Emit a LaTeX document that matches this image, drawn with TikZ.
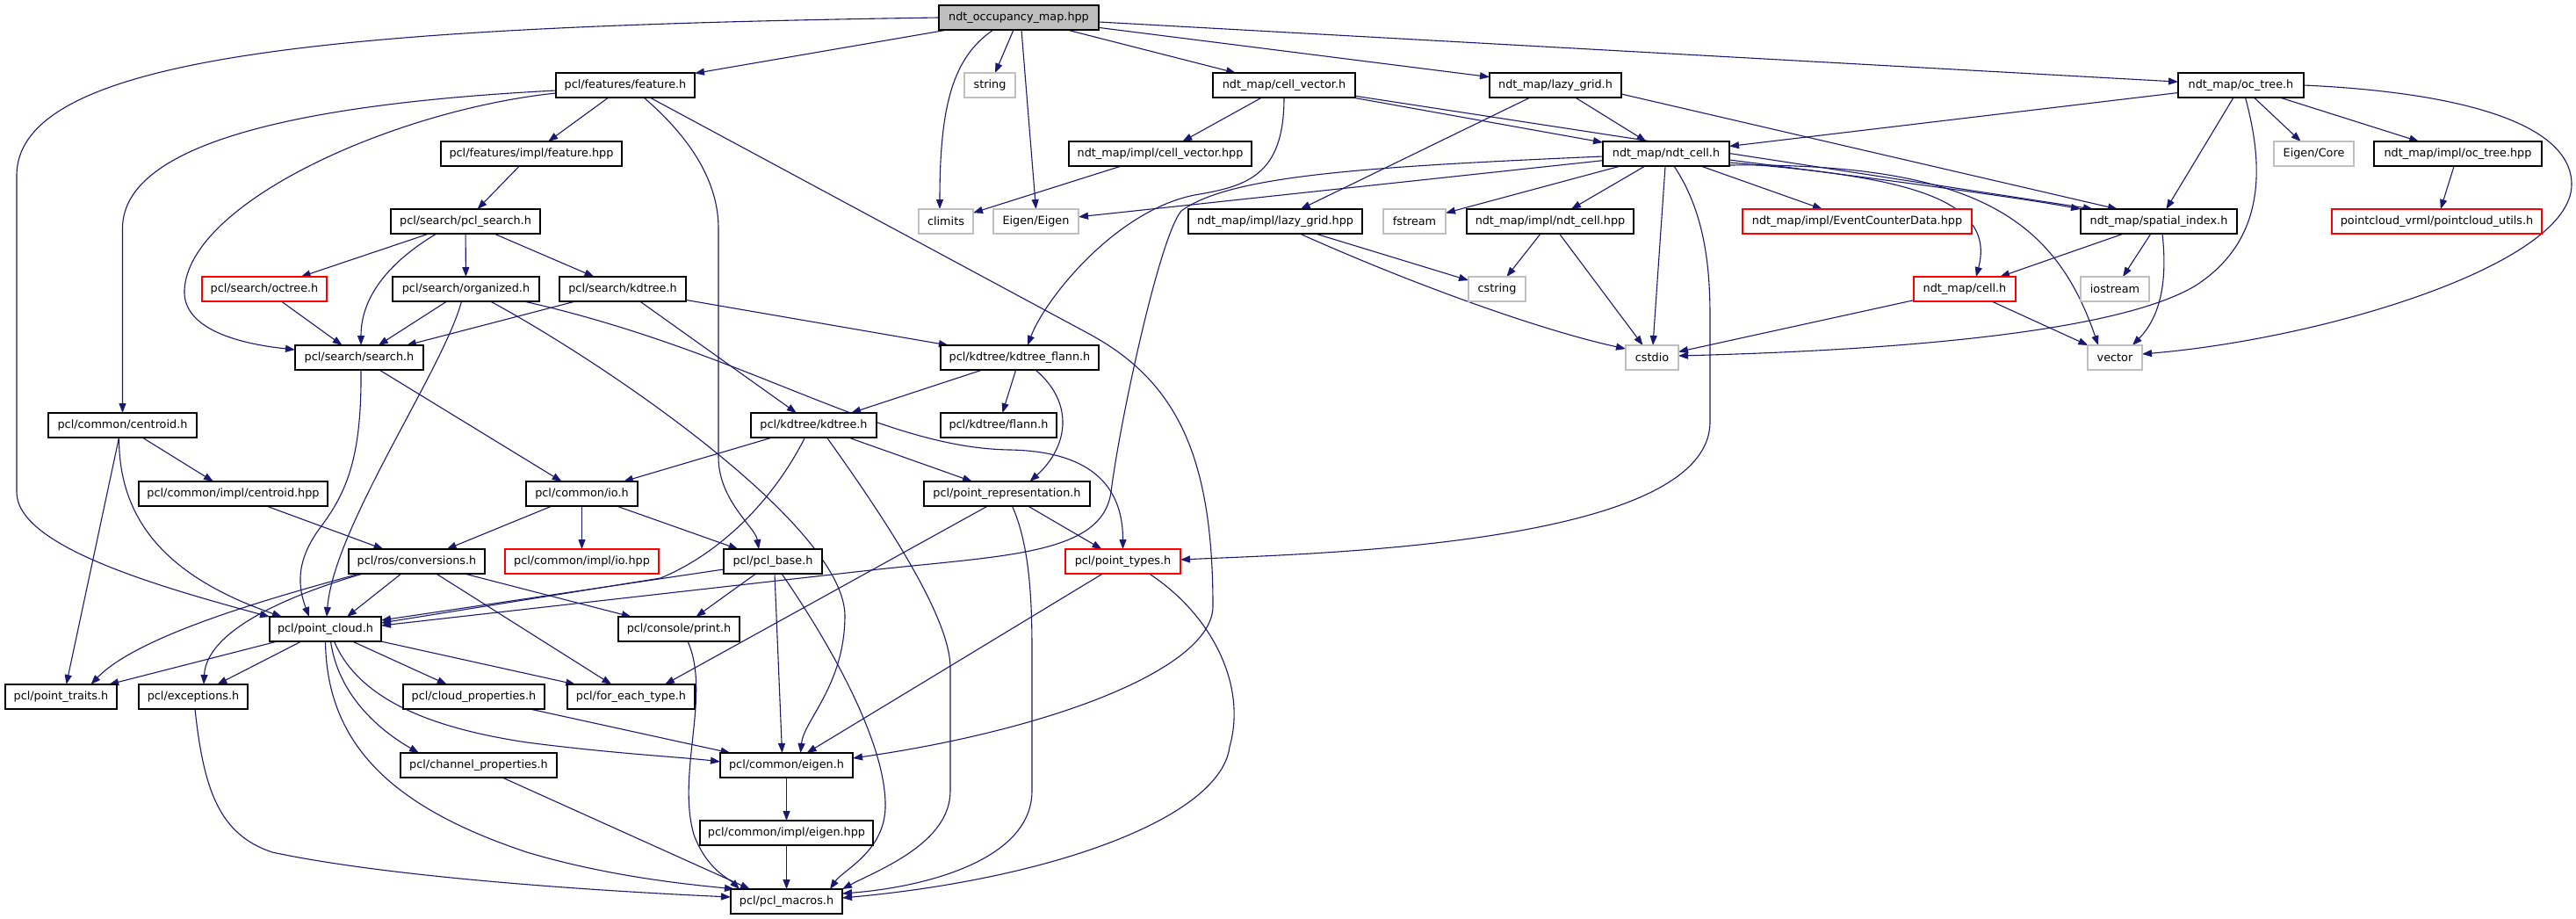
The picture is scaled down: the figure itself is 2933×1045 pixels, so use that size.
\documentclass[tikz,border=0pt]{standalone}
\usepackage{fontspec}
\newfontfamily\dgfam{DejaVu Sans}
\usetikzlibrary{arrows.meta,calc,backgrounds}
\definecolor{edgecol}{HTML}{191970}
\definecolor{sysgray}{HTML}{BFBFBF}
\definecolor{rootgray}{HTML}{BFBFBF}
\definecolor{truncred}{HTML}{FF0000}
\tikzset{
  hdr/.style={draw=black, line width=1.2bp, fill=white, minimum height=28bp,
    inner sep=0pt, outer sep=0pt, text=black,
    font=\dgfam\fontsize{12.8bp}{15bp}\selectfont},
  sys/.style={hdr, draw=sysgray},
  trunc/.style={hdr, draw=truncred},
  rootbox/.style={hdr, fill=rootgray},
  dep/.style={draw=edgecol, line width=1.1bp, -{Triangle[length=11bp,width=8bp]}},
}
\begin{document}
\begin{tikzpicture}[x=1bp,y=-1bp]
\useasboundingbox (0,0) rectangle (2933,1045);
% nodes
\node[rootbox, minimum width=182bp] (root) at (1160,20) {ndt\_occupancy\_map.hpp};
\node[hdr, minimum width=158bp] (feat) at (712,97) {pcl/features/feature.h};
\node[sys, minimum width=58bp] (string) at (1127,97) {string};
\node[hdr, minimum width=162bp] (cellvec) at (1462,97) {ndt\_map/cell\_vector.h};
\node[hdr, minimum width=150bp] (lazy) at (1771,97) {ndt\_map/lazy\_grid.h};
\node[hdr, minimum width=143bp] (octndt) at (2551.5,97) {ndt\_map/oc\_tree.h};
\node[hdr, minimum width=206bp] (featimpl) at (605,175) {pcl/features/impl/feature.hpp};
\node[hdr, minimum width=208bp] (cvimpl) at (1321,175) {ndt\_map/impl/cell\_vector.hpp};
\node[hdr, minimum width=144bp] (ndtcell) at (1897,175) {ndt\_map/ndt\_cell.h};
\node[sys, minimum width=91bp] (eigencore) at (2634.5,175) {Eigen/Core};
\node[hdr, minimum width=191bp] (octimpl) at (2798.5,175) {ndt\_map/impl/oc\_tree.hpp};
\node[hdr, minimum width=170bp] (pclsearch) at (530,252) {pcl/search/pcl\_search.h};
\node[sys, minimum width=62bp] (climits) at (1077,252) {climits};
\node[sys, minimum width=97bp] (eigeneigen) at (1179.5,252) {Eigen/Eigen};
\node[hdr, minimum width=198bp] (lgimpl) at (1452,252) {ndt\_map/impl/lazy\_grid.hpp};
\node[sys, minimum width=71bp] (fstream) at (1610.5,252) {fstream};
\node[hdr, minimum width=190bp] (ncimpl) at (1765,252) {ndt\_map/impl/ndt\_cell.hpp};
\node[trunc, minimum width=261bp] (ecd) at (2114.5,252) {ndt\_map/impl/EventCounterData.hpp};
\node[hdr, minimum width=178bp] (spidx) at (2458,252) {ndt\_map/spatial\_index.h};
\node[trunc, minimum width=239bp] (pcutils) at (2774.5,252) {pointcloud\_vrml/pointcloud\_utils.h};
\node[trunc, minimum width=142bp] (octreeh) at (301,329) {pcl/search/octree.h};
\node[hdr, minimum width=167bp] (organized) at (530.5,329) {pcl/search/organized.h};
\node[hdr, minimum width=144bp] (skdtree) at (709,329) {pcl/search/kdtree.h};
\node[sys, minimum width=65bp] (cstring) at (1704.5,329) {cstring};
\node[trunc, minimum width=116bp] (cellh) at (2237,329) {ndt\_map/cell.h};
\node[sys, minimum width=78bp] (iostream) at (2408,329) {iostream};
\node[hdr, minimum width=146bp] (search) at (409,407) {pcl/search/search.h};
\node[hdr, minimum width=180bp] (kdflann) at (1161,407) {pcl/kdtree/kdtree\_flann.h};
\node[sys, minimum width=60bp] (cstdio) at (1881,407) {cstdio};
\node[sys, minimum width=62bp] (vector) at (2408,407) {vector};
\node[hdr, minimum width=169bp] (centroid) at (139.5,484) {pcl/common/centroid.h};
\node[hdr, minimum width=143bp] (kdtree) at (926.5,484) {pcl/kdtree/kdtree.h};
\node[hdr, minimum width=132bp] (flann) at (1137,484) {pcl/kdtree/flann.h};
\node[hdr, minimum width=215bp] (centimpl) at (265.5,562) {pcl/common/impl/centroid.hpp};
\node[hdr, minimum width=127bp] (io) at (662.5,562) {pcl/common/io.h};
\node[hdr, minimum width=189bp] (ptrep) at (1146.5,562) {pcl/point\_representation.h};
\node[hdr, minimum width=155bp] (conv) at (474.5,639) {pcl/ros/conversions.h};
\node[trunc, minimum width=175bp] (ioimpl) at (662.5,639) {pcl/common/impl/io.hpp};
\node[hdr, minimum width=112bp] (pclbase) at (880,639) {pcl/pcl\_base.h};
\node[trunc, minimum width=131bp] (pttypes) at (1278.5,639) {pcl/point\_types.h};
\node[hdr, minimum width=127bp] (ptcloud) at (370.5,716) {pcl/point\_cloud.h};
\node[hdr, minimum width=138bp] (print) at (773,716) {pcl/console/print.h};
\node[hdr, minimum width=127bp] (pttraits) at (69.5,793) {pcl/point\_traits.h};
\node[hdr, minimum width=124bp] (except) at (220,793) {pcl/exceptions.h};
\node[hdr, minimum width=161bp] (cloudprop) at (539.5,793) {pcl/cloud\_properties.h};
\node[hdr, minimum width=145bp] (foreach) at (718.5,793) {pcl/for\_each\_type.h};
\node[hdr, minimum width=151bp] (eigenh) at (895.5,871) {pcl/common/eigen.h};
\node[hdr, minimum width=178bp] (chanprop) at (545,871) {pcl/channel\_properties.h};
\node[hdr, minimum width=197bp] (eigimpl) at (895.5,948) {pcl/common/impl/eigen.hpp};
\node[hdr, minimum width=127bp] (macros) at (895.5,1026) {pcl/pcl\_macros.h};

\begin{scope}[on background layer]
\fill[white] (0,0) rectangle (2933,1045);
% root
\draw[dep] (root) -- (feat);
\draw[dep] (root.west) .. controls (400,30) and (19,60) .. (19,200) -- (19,560) .. controls (19,620) and (170,665) .. (ptcloud.north west);
\draw[dep] (root) -- (string);
\draw[dep] ($(root.south)+(-29,0)$) .. controls (1085,65) and (1070,120) .. ($(climits.north)+(-7,0)$);
\draw[dep] ($(root.south)+(3,0)$) -- (eigeneigen.north);
\draw[dep] (root) -- (cellvec);
\draw[dep] (root) -- (lazy);
\draw[dep] (root) -- (octndt);
% feature.h
\draw[dep] (feat) -- (featimpl);
\draw[dep] ($(feat.west)+(0,6)$) .. controls (400,115) and (139.5,150) .. (139.5,260) -- (centroid.north);
\draw[dep] ($(feat.west)+(0,9)$) .. controls (450,125) and (215,230) .. (210,330) .. controls (208,370) and (260,390) .. ($(search.west)+(0,-9)$);
\draw[dep] ($(feat.south)+(21,0)$) .. controls (790,160) and (818,210) .. (818,260) -- (818,520) .. controls (818,570) and (860,600) .. ($(pclbase.north)+(-16,0)$);
\draw[dep] ($(feat.south)+(28,0)$) -- (1240,380) .. controls (1340,434) and (1381,520) .. (1381,690) .. controls (1381,760) and (1200,830) .. ($(eigenh.east)+(0,-8)$);
% search family
\draw[dep] (featimpl) -- (pclsearch);
\draw[dep] (pclsearch) -- (octreeh);
\draw[dep] (pclsearch) -- (organized);
\draw[dep] (pclsearch) -- (skdtree);
\draw[dep] ($(pclsearch.south)+(-33,0)$) .. controls (440,300) and (411,340) .. ($(search.north)+(2,0)$);
\draw[dep] (octreeh) -- (search);
\draw[dep] (organized) -- (search);
\draw[dep] (skdtree) -- (search);
\draw[dep] ($(organized.south)+(-5,0)$) .. controls (505,420) and (380,600) .. ($(ptcloud.north west)+(65,0)$);
\draw[dep] ($(organized.south)+(28,0)$) .. controls (700,420) and (960,600) .. (962,700) .. controls (962,780) and (915,820) .. ($(eigenh.north)+(16,0)$);
\draw[dep] ($(organized.south)+(66,0)$) .. controls (850,400) and (1000,510) .. (1150,512) .. controls (1250,514) and (1278.5,560) .. (pttypes.north);
\draw[dep] (skdtree) -- (kdtree);
\draw[dep] (skdtree) -- (kdflann);
% ndt side
\draw[dep] (cellvec) -- (cvimpl);
\draw[dep] (cellvec.south) .. controls (1462,200) and (1420,212) .. (1360,222) .. controls (1270,240) and (1190,340) .. ($(kdflann.north)+(9,0)$);
\draw[dep] (cellvec) -- (ndtcell);
\draw[dep] (cellvec) -- ($(spidx.north west)+(14,0)$);
\draw[dep] (lazy) -- (lgimpl);
\draw[dep] (lazy) -- (ndtcell);
\draw[dep] ($(lazy.east)+(0,10)$) -- ($(spidx.north west)+(42,0)$);
\draw[dep] (octndt) -- (ndtcell);
\draw[dep] (octndt) -- (spidx);
\draw[dep] ($(octndt.south)+(5,0)$) .. controls (2575,180) and (2585,270) .. (2500,325) .. controls (2400,385) and (2100,400) .. ($(cstdio.east)+(0,-2)$);
\draw[dep] (octndt) -- (eigencore);
\draw[dep] (octndt) -- (octimpl);
\draw[dep] (octndt.east) .. controls (2800,105) and (2928,140) .. (2928,210) .. controls (2928,300) and (2650,385) .. ($(vector.east)+(0,-4)$);
\draw[dep] (octimpl) -- (pcutils);
\draw[dep] (cvimpl) -- (climits);
\draw[dep] (ndtcell) -- (eigeneigen);
\draw[dep] ($(ndtcell.west)+(0,3)$) .. controls (1550,190) and (1400,200) .. (1345,240) .. controls (1320,270) and (1275,480) .. (1265,560) .. controls (1255,630) and (1150,632) .. (1000,648) -- ($(ptcloud.east)+(0,-4)$);
\draw[dep] (ndtcell) -- (fstream);
\draw[dep] (ndtcell) -- (ncimpl);
\draw[dep] (ndtcell) -- (cstdio);
\draw[dep] ($(ndtcell.south)+(9,0)$) .. controls (1940,240) and (1947,300) .. (1947,360) -- (1947,480) .. controls (1947,620) and (1500,630) .. ($(pttypes.east)+(0,-2)$);
\draw[dep] (ndtcell) -- (ecd);
\draw[dep] ($(ndtcell.east)+(0,7)$) .. controls (2150,205) and (2300,225) .. (spidx.north west);
\draw[dep] ($(ndtcell.east)+(0,10)$) .. controls (2150,200) and (2275,220) .. ($(cellh.north)+(13,0)$);
\draw[dep] ($(ndtcell.east)+(0,13)$) .. controls (2250,185) and (2340,250) .. ($(vector.north)+(-19,0)$);
\draw[dep] (lgimpl) -- (cstring);
\draw[dep] ($(lgimpl.south)+(28,0)$) .. controls (1600,320) and (1750,375) .. ($(cstdio.west)+(0,-10)$);
\draw[dep] (ncimpl) -- (cstring);
\draw[dep] (ncimpl) -- (cstdio);
\draw[dep] (spidx) -- (cellh);
\draw[dep] (spidx) -- (iostream);
\draw[dep] ($(spidx.south)+(4,0)$) .. controls (2468,320) and (2460,360) .. ($(vector.north)+(20,0)$);
\draw[dep] (cellh) -- (cstdio);
\draw[dep] (cellh) -- (vector);
% pcl middle
\draw[dep] (search) -- (io);
\draw[dep] ($(search.south)+(2,0)$) .. controls (412,520) and (395,560) .. (365,600) .. controls (335,640) and (340,670) .. ($(ptcloud.north west)+(45,0)$);
\draw[dep] (centroid) -- (centimpl);
\draw[dep] ($(centroid.south)+(-4,0)$) -- ($(pttraits.north)+(6,0)$);
\draw[dep] ($(centroid.south)+(-4,0)$) .. controls (135,600) and (200,660) .. ($(ptcloud.north west)+(14,0)$);
\draw[dep] (centimpl) -- (conv);
\draw[dep] (io) -- (conv);
\draw[dep] (io) -- (ioimpl);
\draw[dep] (io) -- (pclbase);
\draw[dep] (kdtree) -- (io);
\draw[dep] ($(kdtree.south)+(-10,0)$) .. controls (880,570) and (820,630) .. (752,658) -- ($(ptcloud.east)+(0,-7)$);
\draw[dep] ($(kdtree.south)+(15,0)$) .. controls (1000,580) and (1082,700) .. (1082,760) -- (1082,900) .. controls (1082,960) and (1000,990) .. (macros.north east);
\draw[dep] (kdtree) -- (ptrep);
\draw[dep] (kdflann) -- (kdtree);
\draw[dep] (kdflann) -- (flann);
\draw[dep] ($(kdflann.south)+(18,0)$) .. controls (1225,460) and (1215,510) .. ($(ptrep.north)+(26,0)$);
\draw[dep] ($(pclbase.south)+(10,0)$) .. controls (950,740) and (1010,850) .. (1008,920) .. controls (1006,970) and (960,990) .. ($(macros.north east)+(-14,0)$);
\draw[dep] ($(pclbase.south)+(2,0)$) -- ($(eigenh.north)+(-5,0)$);
\draw[dep] (pclbase) -- (print);
\draw[dep] ($(pclbase.west)+(0,9)$) -- ($(ptcloud.east)+(0,-10)$);
\draw[dep] ($(ptrep.south)+(-22,0)$) -- ($(foreach.north east)+(-34,0)$);
\draw[dep] ($(ptrep.south)+(6,0)$) .. controls (1172,620) and (1175,680) .. (1175,740) -- (1175,900) .. controls (1175,980) and (1050,1010) .. ($(macros.east)+(0,-9)$);
\draw[dep] (ptrep) -- (pttypes);
\draw[dep] (pttypes) -- (eigenh);
\draw[dep] ($(pttypes.south)+(30,0)$) .. controls (1380,700) and (1420,780) .. (1400,850) .. controls (1390,930) and (1200,1000) .. ($(macros.east)+(0,-4)$);
% lower
\draw[dep] ($(print.south)+(10,0)$) .. controls (810,790) and (770,880) .. (790,950) .. controls (805,990) and (830,1000) .. ($(macros.north west)+(10,0)$);
\draw[dep] ($(except.south)+(2,0)$) .. controls (232,900) and (250,950) .. (310,970) .. controls (450,1000) and (700,1015) .. ($(macros.west)+(0,-5)$);
\draw[dep] ($(chanprop.south)+(27,0)$) -- ($(macros.north west)+(22,0)$);
\draw[dep] (eigimpl) -- (macros);
\draw[dep] (eigenh) -- (eigimpl);
\draw[dep] (cloudprop) -- (eigenh);
\draw[dep] (ptcloud) -- (pttraits);
\draw[dep] (ptcloud) -- (except);
\draw[dep] (ptcloud) -- (cloudprop);
\draw[dep] (ptcloud) -- (foreach);
\draw[dep] ($(ptcloud.south)+(6,0)$) .. controls (385,790) and (430,830) .. ($(chanprop.north)+(-68,0)$);
\draw[dep] ($(ptcloud.south)+(10,0)$) .. controls (410,800) and (500,830) .. (600,845) .. controls (700,858) and (780,862) .. ($(eigenh.west)+(0,-4)$);
\draw[dep] (ptcloud.south) .. controls (372,850) and (450,920) .. (600,970) .. controls (700,1000) and (800,1008) .. ($(macros.north west)+(4,0)$);
\draw[dep] ($(conv.south west)+(12,0)$) .. controls (330,675) and (160,720) .. ($(pttraits.north)+(34,0)$);
\draw[dep] ($(conv.south west)+(16,0)$) .. controls (320,680) and (235,720) .. ($(except.north)+(12,0)$);
\draw[dep] (conv) -- ($(ptcloud.north west)+(88,0)$);
\draw[dep] (conv) -- (foreach);
\draw[dep] (conv) -- (print);
\end{scope}
\end{tikzpicture}
\end{document}
